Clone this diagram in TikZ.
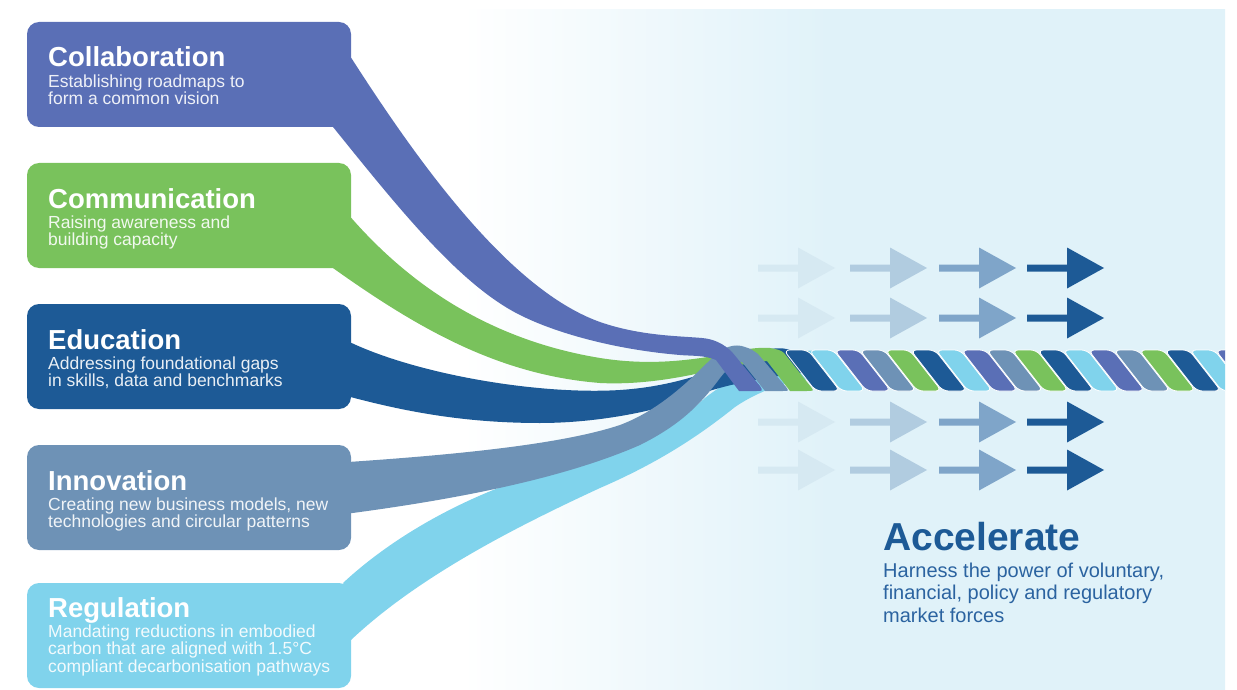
\documentclass[tikz,border=0pt]{standalone}
\usepackage{fontspec}
\setmainfont{Liberation Sans}
\usepackage{xcolor}
\usepackage{tikz}
\usetikzlibrary{positioning,calc}

\definecolor{collabblue}{HTML}{5A6FB6}
\definecolor{commgreen}{HTML}{79C25C}
\definecolor{edublue}{HTML}{1D5A96}
\definecolor{innovsteel}{HTML}{6E92B6}
\definecolor{regcyan}{HTML}{80D3EC}
\definecolor{skybg}{HTML}{E0F2F9}
\definecolor{arrowA}{HTML}{D6E9F2}
\definecolor{arrowB}{HTML}{B1CCE0}
\definecolor{arrowC}{HTML}{7FA5C9}
\definecolor{arrowD}{HTML}{1D5A96}
\definecolor{accsubblue}{HTML}{2B63A0}

\pgfdeclarehorizontalshading{bgfade}{100bp}{color(0bp)=(white); color(25bp)=(white); color(49bp)=(skybg); color(100bp)=(skybg)}

\tikzset{
  box/.style={rectangle, rounded corners=12pt, minimum width=324pt, minimum height=105pt, inner sep=0pt},
  boxtitle/.style={anchor=base west, inner sep=0pt, text=white, font=\fontsize{27.5}{30}\selectfont\bfseries},
  boxsub/.style={anchor=north west, inner sep=0pt, align=left, text=white, text opacity=0.9, font=\fontsize{17.5}{17.5}\selectfont},
  acctitle/.style={anchor=base west, inner sep=0pt, text=edublue, font=\fontsize{39}{42}\selectfont\bfseries},
  accsub/.style={anchor=north west, inner sep=0pt, align=left, text=accsubblue, font=\fontsize{20}{22.5}\selectfont},
  strand/.style={draw=white, line width=0.8pt, rounded corners=6pt}
}

\begin{document}
\begin{tikzpicture}[x=1pt, y=-1pt]
\useasboundingbox (0,0) rectangle (1237,690);

% background
\fill[shading=bgfade] (463,10) rectangle (1225,690);

% arrows
\foreach \ay in {268,318,422,470}
  \foreach \ax/\ac in {758/arrowA,850/arrowB,939/arrowC,1027/arrowD}
    \fill[\ac] (\ax,\ay-3.5) -- ++(40,0) -- ++(0,-17) -- (\ax+77,\ay)
      -- (\ax+40,\ay+20.5) -- ++(0,-17) -- (\ax,\ay+3.5) -- cycle;

% boxes
\foreach \nm/\col/\top/\off/\ttl/\sub in {
  collab/collabblue/22/45/Collaboration/{Establishing roadmaps to\\form a common vision},
  comm/commgreen/163/45/Communication/{Raising awareness and\\building capacity},
  edu/edublue/304/45/Education/{Addressing foundational gaps\\in skills, data and benchmarks},
  innov/innovsteel/445/45/Innovation/{Creating new business models, new\\technologies and circular patterns},
  reg/regcyan/583/34/Regulation/{Mandating reductions in embodied\\carbon that are aligned with 1.5°C\\compliant decarbonisation pathways}}
{
  \node[box, fill=\col] (\nm) at (189,\top+52.5) {};
  \node[boxtitle] (\nm-t) at (48,\top+\off) {\ttl};
  \node[below=7.5pt of \nm-t.base west, boxsub] (\nm-s) {\sub};
}

% strands under the rope
\fill[regcyan] ([xshift=-8pt]reg.north east) .. controls (400,530) and (490,480) .. (600,458)
  .. controls (650,442) and (680,420) .. (705,398)
  .. controls (730,378) and (770,360) .. (800,352)
  .. controls (810,350) and (818,350) .. (822,352) -- (835,372) -- (820,378)
  .. controls (790,380) and (760,390) .. (735,407)
  .. controls (700,435) and (660,462) .. (600,488)
  .. controls (520,525) and (420,575) .. ([yshift=-57pt]reg.north east) -- cycle;
\fill[edublue] ([yshift=-39pt]edu.north east) .. controls (420,375) and (540,395) .. (620,390)
  .. controls (680,386) and (720,368) .. (760,352)
  .. controls (770,348) and (782,347) .. (790,350) -- (800,352) -- (812,372)
  .. controls (770,376) and (720,385) .. (690,398)
  .. controls (660,410) and (600,423) .. (540,423)
  .. controls (460,423) and (400,410) .. ([yshift=12pt]edu.south east) -- cycle;

% rope
\begin{scope}
  \clip (700,340) rectangle (1225,400);
  \foreach \r in {0,...,3}
    \foreach \c [count=\i from 0] in {edublue,regcyan,collabblue,innovsteel,commgreen}{
      \pgfmathsetmacro{\sx}{783.6+25.4*(5*\r+\i)}
      \fill[\c, strand] (\sx,350) -- (\sx+24.4,350) -- (\sx+56.4,391) -- (\sx+32,391) -- cycle;
    }
\end{scope}

% strands over the rope
\fill[commgreen] ([yshift=-55pt]comm.north east) .. controls (410,285) and (490,340) .. (600,358)
  .. controls (650,366) and (690,360) .. (720,355)
  .. controls (740,350) and (755,347) .. (770,348)
  .. controls (776,349) and (781,350) .. (784,353) -- (811,387)
  .. controls (814,391) .. (806,391) -- (790,391) -- (767,361)
  .. controls (755,362) and (735,366) .. (713,370)
  .. controls (680,378) and (640,385) .. (600,383)
  .. controls (500,375) and (420,330) .. ([xshift=-18pt]comm.south east) -- cycle;
\fill[innovsteel] ([yshift=-17pt]innov.north east) .. controls (450,455) and (560,445) .. (620,425)
  .. controls (660,410) and (690,380) .. (712,358)
  .. controls (722,347) and (735,343) .. (745,347)
  .. controls (751,349) .. (758,354) -- (786,387)
  .. controls (789,391) .. (782,391) -- (765,391) -- (742,362)
  .. controls (735,360) and (728,368) .. (720,378)
  .. controls (700,405) and (680,425) .. (640,445)
  .. controls (560,480) and (450,500) .. ([yshift=37pt]innov.south east) -- cycle;
\fill[collabblue] ([yshift=-36pt]collab.north east) .. controls (420,165) and (510,290) .. (600,322)
  .. controls (640,336) and (680,336) .. (702,338)
  .. controls (714,339) and (724,344) .. (732,352) -- (760,386)
  .. controls (763,391) .. (756,391) -- (739,391) -- (716,360)
  .. controls (705,355) and (690,356) .. (680,355)
  .. controls (620,350) and (560,335) .. (520,315)
  .. controls (460,285) and (400,210) .. ([xshift=-18pt]collab.south east) -- cycle;

\node[acctitle] (acc) at (883,550) {Accelerate};
\node[below=12.7pt of acc.base west, accsub] (acc-s) {Harness the power of voluntary,\\financial, policy and regulatory\\market forces};
\end{tikzpicture}
\end{document}
